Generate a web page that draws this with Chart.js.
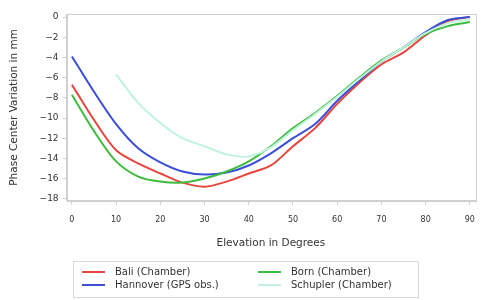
<!DOCTYPE html>
<html><head><meta charset="utf-8">
<script src="https://cdn.jsdelivr.net/npm/chart.js@4.4.1/dist/chart.umd.min.js"></script>
<style>
html,body{margin:0;padding:0;background:#fff;}
#wrap{position:relative;width:485px;height:300px;}
#legend{position:absolute;left:73px;top:261px;width:346px;height:37px;border:1px solid #d8d8d8;box-sizing:border-box;font-family:"DejaVu Sans",sans-serif;font-size:10px;color:#333;}
.item{position:absolute;display:flex;align-items:center;line-height:12px;}
.sw{width:23px;height:2px;margin-right:10px;}
</style></head><body>
<div id="wrap"><canvas id="c" width="485" height="300"></canvas><div id="legend"></div></div>
<script>
const elevation = [0,5,10,15,20,25,30,35,40,45,50,55,60,65,70,75,80,85,90];
const bali     = [-6.7,-10.2,-13.2,-14.5,-15.5,-16.4,-16.8,-16.3,-15.5,-14.7,-12.8,-11.0,-8.6,-6.5,-4.7,-3.5,-1.8,-0.4,0.0];
const hannover = [-3.9,-7.4,-10.6,-13.0,-14.4,-15.3,-15.6,-15.4,-14.7,-13.5,-12.0,-10.6,-8.3,-6.3,-4.4,-3.0,-1.5,-0.3,0.0];
const born     = [-7.7,-11.3,-14.3,-15.8,-16.3,-16.4,-16.0,-15.3,-14.3,-12.8,-11.0,-9.5,-7.8,-6.0,-4.3,-3.0,-1.7,-0.9,-0.5];
const schupler = [null,null,-5.7,-8.5,-10.5,-12.0,-12.8,-13.6,-13.8,-12.9,-11.2,-9.6,-7.9,-6.1,-4.4,-3.0,-1.6,-0.6,-0.2];
const xTicks = [0,10,20,30,40,50,60,70,80,90];
const yTicks = [0,-2,-4,-6,-8,-10,-12,-14,-16,-18];
const seriesNames = ["Bali (Chamber)","Hannover (GPS obs.)","Born (Chamber)","Schupler (Chamber)"];
const seriesColors = ["#e8453c","#3a4fd8","#3dbb3d","#bff3dc"];
const seriesData = [bali,hannover,born,schupler];

const mk = (i)=>({label:seriesNames[i],data:elevation.map((x,j)=>({x:x,y:seriesData[i][j]})),
  borderColor:seriesColors[i],backgroundColor:seriesColors[i],borderWidth:2,pointRadius:0,tension:0.3,spanGaps:false});

const frame = {id:'frame',afterDraw(ch){const a=ch.chartArea,c=ch.ctx;c.save();c.strokeStyle='#cfcfcf';c.lineWidth=1;
  c.strokeRect(Math.round(a.left)+0.5,Math.round(a.top)+0.5,Math.round(a.right-a.left),Math.round(a.bottom-a.top));c.restore();}};

const fam = '"DejaVu Sans", sans-serif';
new Chart(document.getElementById('c'),{
  type:'line',
  data:{datasets:[mk(3),mk(2),mk(1),mk(0)]},
  plugins:[frame],
  options:{responsive:false,animation:false,
    layout:{padding:{left:8,right:3,top:14,bottom:50}},
    plugins:{legend:{display:false},tooltip:{enabled:false}},
    scales:{
      x:{type:'linear',min:-1.2,max:91.2,
        afterBuildTicks:(s)=>{s.ticks=xTicks.map(v=>({value:v}));},
        grid:{drawOnChartArea:false,tickLength:4,color:'#cfcfcf'},border:{color:'#cfcfcf'},
        ticks:{font:{family:fam,size:8},color:'#333',padding:10,maxRotation:0},
        title:{display:true,text:'Elevation in Degrees',font:{family:fam,size:10.5},color:'#333',padding:{top:3,bottom:0}}},
      y:{type:'linear',min:-18.2,max:0.3,
        afterBuildTicks:(s)=>{s.ticks=yTicks.map(v=>({value:v}));},
        grid:{drawOnChartArea:false,tickLength:4,color:'#cfcfcf'},border:{color:'#cfcfcf'},
        ticks:{font:{family:fam,size:9},color:'#333',padding:4,callback:(v)=>v<0?'\u2212'+Math.abs(v):String(v)},
        title:{display:true,text:'Phase Center Variation in mm',font:{family:fam,size:10.5},color:'#333',padding:{top:0,bottom:15}}}
    }}
});
const lg=document.getElementById('legend');
const pos=[[8,4],[8,17],[184,4],[184,17]];
seriesNames.forEach((n,i)=>{const d=document.createElement('div');d.className='item';d.style.left=pos[i][0]+'px';d.style.top=pos[i][1]+'px';
  d.innerHTML='<span class="sw" style="background:'+seriesColors[i]+'"></span><span>'+n+'</span>';lg.appendChild(d);});
</script></body></html>
